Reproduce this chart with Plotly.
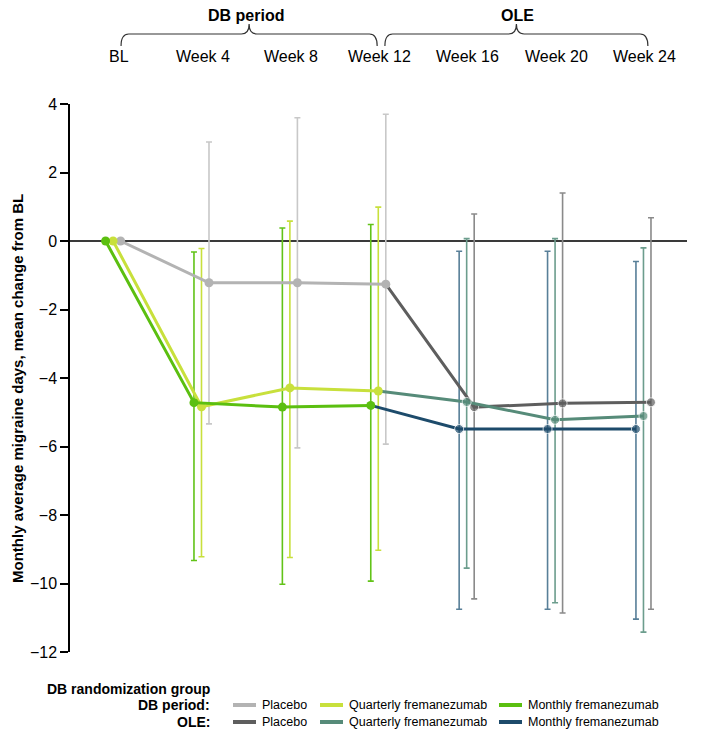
import plotly.graph_objects as go

# ---------------- data ----------------
weeks_db = [0, 4, 8, 12]
weeks_ole = [12, 16, 20, 24]
top_labels = ["BL", "Week 4", "Week 8", "Week 12", "Week 16", "Week 20", "Week 24"]
top_label_weeks = [0, 4, 8, 12, 16, 20, 24]
y_ticks = [4, 2, 0, -2, -4, -6, -8, -10, -12]

placebo_db_mean = [0, -1.22, -1.22, -1.26]
placebo_db_upper = [None, 2.89, 3.60, 3.70]
placebo_db_lower = [None, -5.34, -6.04, -5.93]

quarterly_db_mean = [0, -4.84, -4.29, -4.38]
quarterly_db_upper = [None, -0.22, 0.58, 0.99]
quarterly_db_lower = [None, -9.22, -9.24, -9.03]

monthly_db_mean = [0, -4.72, -4.85, -4.80]
monthly_db_upper = [None, -0.32, 0.38, 0.48]
monthly_db_lower = [None, -9.33, -10.02, -9.93]

placebo_ole_mean = [-1.26, -4.85, -4.74, -4.71]
placebo_ole_upper = [None, 0.79, 1.40, 0.68]
placebo_ole_lower = [None, -10.45, -10.86, -10.75]

quarterly_ole_mean = [-4.38, -4.70, -5.22, -5.11]
quarterly_ole_upper = [None, 0.07, 0.07, -0.20]
quarterly_ole_lower = [None, -9.55, -10.56, -11.42]

monthly_ole_mean = [-4.80, -5.49, -5.49, -5.49]
monthly_ole_upper = [None, -0.30, -0.30, -0.60]
monthly_ole_lower = [None, -10.75, -10.75, -11.04]

legend_names = ["Placebo", "Quarterly fremanezumab", "Monthly fremanezumab"]

# ---------------- styles ----------------
FONT = "Liberation Sans, Arial, sans-serif"
OFF = {"placebo": 0.34, "quarterly": 0.0, "monthly": -0.34}

series = [
    ("placebo", weeks_db, placebo_db_mean, placebo_db_upper, placebo_db_lower, "#b3b3b3", "#c8c8c8", "db"),
    ("quarterly", weeks_db, quarterly_db_mean, quarterly_db_upper, quarterly_db_lower, "#c8e03c", "#c8e03c", "db"),
    ("monthly", weeks_db, monthly_db_mean, monthly_db_upper, monthly_db_lower, "#5bbf10", "#62c318", "db"),
    ("placebo", weeks_ole, placebo_ole_mean, placebo_ole_upper, placebo_ole_lower, "#5e5e5e", "#8a8a8a", "ole"),
    ("quarterly", weeks_ole, quarterly_ole_mean, quarterly_ole_upper, quarterly_ole_lower, "#568b79", "#6c9d8d", "ole"),
    ("monthly", weeks_ole, monthly_ole_mean, monthly_ole_upper, monthly_ole_lower, "#1d4b6b", "#587f98", "ole"),
]

fig = go.Figure()

for key, wk, mean, up, lo, lc, ec, phase in series:
    xs, ys, ep, em = [], [], [], []
    for w, m, u, l in zip(wk, mean, up, lo):
        if u is None:
            continue
        xs.append(w + OFF[key])
        ys.append(m)
        ep.append(u - m)
        em.append(m - l)
    fig.add_trace(go.Scatter(
        x=xs, y=ys, mode="markers",
        marker=dict(size=1, color="rgba(0,0,0,0)"),
        error_y=dict(type="data", symmetric=False, array=ep, arrayminus=em,
                     color=ec, thickness=1.6, width=3),
        showlegend=False, hoverinfo="skip"))

for key, wk, mean, up, lo, lc, ec, phase in series:
    if phase != "ole":
        continue
    fig.add_trace(go.Scatter(
        x=[w + OFF[key] for w in wk], y=mean, mode="lines+markers",
        line=dict(color=lc, width=3),
        marker=dict(size=[0] + [9] * (len(wk) - 1), color=lc),
        showlegend=False))

for key, wk, mean, up, lo, lc, ec, phase in series:
    if phase != "db":
        continue
    fig.add_trace(go.Scatter(
        x=[w + OFF[key] for w in wk], y=mean, mode="lines+markers",
        line=dict(color=lc, width=3),
        marker=dict(size=9, color=lc),
        showlegend=False))

# ---------------- layout ----------------
PAGE = 8
W, H = 709 - 2 * PAGE, 731 - PAGE
PL, PR, PT, PB = 70, 687, 104, 652
L, T = PL - PAGE, PT - PAGE
R, B = W - (PR - PAGE), H - (PB - PAGE)
pw, ph = PR - PL, PB - PT

def wy(y):
    return (PB - y) / ph

def wx(x):
    return (x - PL) / pw

fig.update_layout(
    width=W, height=H,
    margin=dict(l=L, r=R, t=T, b=B),
    paper_bgcolor="white", plot_bgcolor="white",
    font=dict(family=FONT, color="black"),
    xaxis=dict(range=[-1.95, 25.97], visible=False),
    yaxis=dict(range=[-12, 4], tickvals=y_ticks, showline=True, linecolor="black",
               linewidth=1.5, ticks="outside", ticklen=8, tickwidth=1.5, tickcolor="black",
               tickfont=dict(size=16, family=FONT), showgrid=False,
               zeroline=True, zerolinecolor="#3a3a3a", zerolinewidth=1.5),
)

ann = []
for lab, w in zip(top_labels, top_label_weeks):
    ann.append(dict(x=w + (0.27 if w == 0 else 0.05), y=wy(57), xref="x", yref="paper",
                    text=lab, showarrow=False, font=dict(size=16), xanchor="center", yanchor="middle"))

ann.append(dict(x=6.0, y=wy(16), xref="x", yref="paper", text="<b>DB period</b>",
                showarrow=False, font=dict(size=16), xanchor="center", yanchor="middle"))
ann.append(dict(x=18.3, y=wy(16), xref="x", yref="paper", text="<b>OLE</b>",
                showarrow=False, font=dict(size=16), xanchor="center", yanchor="middle"))

ann.append(dict(x=wx(17), y=wy(389), xref="paper", yref="paper",
                text="<b>Monthly average migraine days, mean change from BL</b>",
                textangle=-90, showarrow=False, font=dict(size=15),
                xanchor="center", yanchor="middle"))

def brace(x0, x1):
    yh, ye, yp = wy(34), wy(46), wy(24)
    d = 0.35
    m = (x0 + x1) / 2
    return (f"M {x0},{ye} Q {x0},{yh} {x0+d},{yh} L {m-d},{yh} Q {m},{yh} {m},{yp} "
            f"Q {m},{yh} {m+d},{yh} L {x1-d},{yh} Q {x1},{yh} {x1},{ye}")

shapes = [
    dict(type="path", xref="x", yref="paper", path=brace(0.36, 11.95),
         line=dict(color="#333333", width=1.2)),
    dict(type="path", xref="x", yref="paper", path=brace(12.3, 24.2),
         line=dict(color="#333333", width=1.2)),
]

ann.append(dict(x=wx(212), y=wy(689), xref="paper", yref="paper",
                text="<b>DB randomization group</b>", showarrow=False, font=dict(size=14),
                xanchor="right", yanchor="middle"))
rows = [("DB period:", 705, [s[5] for s in series if s[7] == "db"]),
        ("OLE:", 722, [s[5] for s in series if s[7] == "ole"])]
line_x = [233, 320, 499]
for row_label, ypx, cols in rows:
    ann.append(dict(x=wx(212), y=wy(ypx), xref="paper", yref="paper",
                    text=f"<b>{row_label}</b>", showarrow=False, font=dict(size=14),
                    xanchor="right", yanchor="middle"))
    for lx, c, name in zip(line_x, cols, legend_names):
        shapes.append(dict(type="line", xref="paper", yref="paper",
                           x0=wx(lx), x1=wx(lx + 23), y0=wy(ypx), y1=wy(ypx),
                           line=dict(color=c, width=4)))
        ann.append(dict(x=wx(lx + 27), y=wy(ypx), xref="paper", yref="paper",
                        text=name, showarrow=False, font=dict(size=12.5),
                        xanchor="left", yanchor="middle"))

fig.update_layout(annotations=ann, shapes=shapes)
fig.write_html("out.html")
